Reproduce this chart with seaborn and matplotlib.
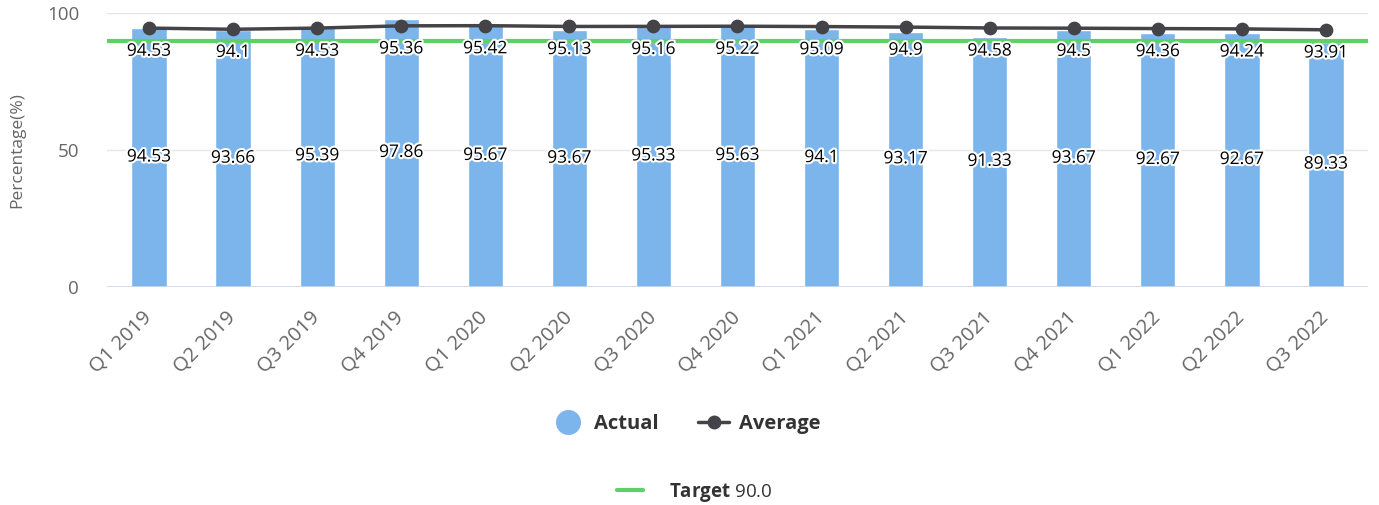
import matplotlib
matplotlib.use("Agg")
import matplotlib.pyplot as plt
import matplotlib.patheffects as pe
from matplotlib.lines import Line2D
import seaborn as sns
import pandas as pd

quarters = ["Q1 2019", "Q2 2019", "Q3 2019", "Q4 2019", "Q1 2020", "Q2 2020",
            "Q3 2020", "Q4 2020", "Q1 2021", "Q2 2021", "Q3 2021", "Q4 2021",
            "Q1 2022", "Q2 2022", "Q3 2022"]
actual = [94.53, 93.66, 95.39, 97.86, 95.67, 93.67, 95.33, 95.63, 94.1, 93.17,
          91.33, 93.67, 92.67, 92.67, 89.33]
average = [94.53, 94.1, 94.53, 95.36, 95.42, 95.13, 95.16, 95.22, 95.09, 94.9,
           94.58, 94.5, 94.36, 94.24, 93.91]
target = 90.0
y_ticks = [0, 50, 100]

sns.set_theme(style="white")
plt.rcParams["font.family"] = ["Open Sans", "DejaVu Sans"]
plt.rcParams["mathtext.fontset"] = "custom"
plt.rcParams["mathtext.rm"] = "Open Sans"
plt.rcParams["mathtext.bf"] = "Open Sans:bold"

df = pd.DataFrame({"quarter": quarters, "actual": actual, "average": average})

BAR = "#7cb5ec"
LINE = "#434348"
GREEN = "#5fd068"

fig = plt.figure(figsize=(13.79, 5.05), dpi=100)
ax = fig.add_axes([0.0776, 0.432, 0.9144, 0.542])

for t in y_ticks:
    ax.axhline(t, color="#e6e6e6", lw=1, zorder=0)

sns.barplot(data=df, x="quarter", y="actual", color=BAR, width=0.42,
            saturation=1, ax=ax, zorder=2)
ax.axhline(target, color=GREEN, lw=3, zorder=3)
sns.pointplot(data=df, x="quarter", y="average", color=LINE, markers="o",
              markersize=8, linewidth=2.5, ax=ax, zorder=4)
ax.axhline(0, color="#ccd6eb", lw=1.2, zorder=5)

stroke = [pe.withStroke(linewidth=3, foreground="white")]
for i, (a, m) in enumerate(zip(actual, average)):
    ax.annotate(f"{a:g}", (i, a / 2), ha="center", va="center", fontsize=12.5,
                color="black", path_effects=stroke, zorder=6)
    ax.annotate(f"{m:g}", (i, m), xytext=(0, -17), textcoords="offset points",
                ha="center", va="center", fontsize=12.5, color="black",
                path_effects=stroke, zorder=6)

ax.set_ylim(0, 100)
ax.set_xlim(-0.5, len(quarters) - 0.5)
ax.set_yticks(y_ticks)
ax.set_xlabel("")
ax.set_ylabel("Percentage(%)", color="#666666", fontsize=12.5)
ax.yaxis.set_label_coords(-0.065, 0.5)
ax.tick_params(axis="y", colors="#666666", labelsize=13.5, length=0, pad=20)
ax.tick_params(axis="x", colors="#666666", labelsize=14.5, length=0, pad=20)
for lab in ax.get_xticklabels():
    lab.set_rotation(45)
    lab.set_ha("right")
    lab.set_va("center")
    lab.set_rotation_mode("anchor")
for s in ax.spines.values():
    s.set_visible(False)

h_actual = Line2D([], [], marker="o", ls="none", color=BAR, markersize=17)
h_avg = Line2D([], [], marker="o", color=LINE, lw=2.5, markersize=9)
fig.legend([h_actual, h_avg], ["Actual", "Average"], loc="center",
           bbox_to_anchor=(0.498, 0.16), ncol=2, frameon=False,
           prop={"size": 14.5, "weight": "bold"}, handlelength=1.5,
           columnspacing=2.0, handletextpad=0.5, labelcolor="#333333")

h_target = Line2D([], [], color=GREEN, lw=3)
fig.legend([h_target], [r"$\mathbf{Target}$ 90.0"], loc="center",
           bbox_to_anchor=(0.504, 0.025), frameon=False,
           prop={"size": 13.5}, handlelength=1.35, handletextpad=1.4,
           labelcolor="#333333")

fig.savefig("out.png", dpi=100)
